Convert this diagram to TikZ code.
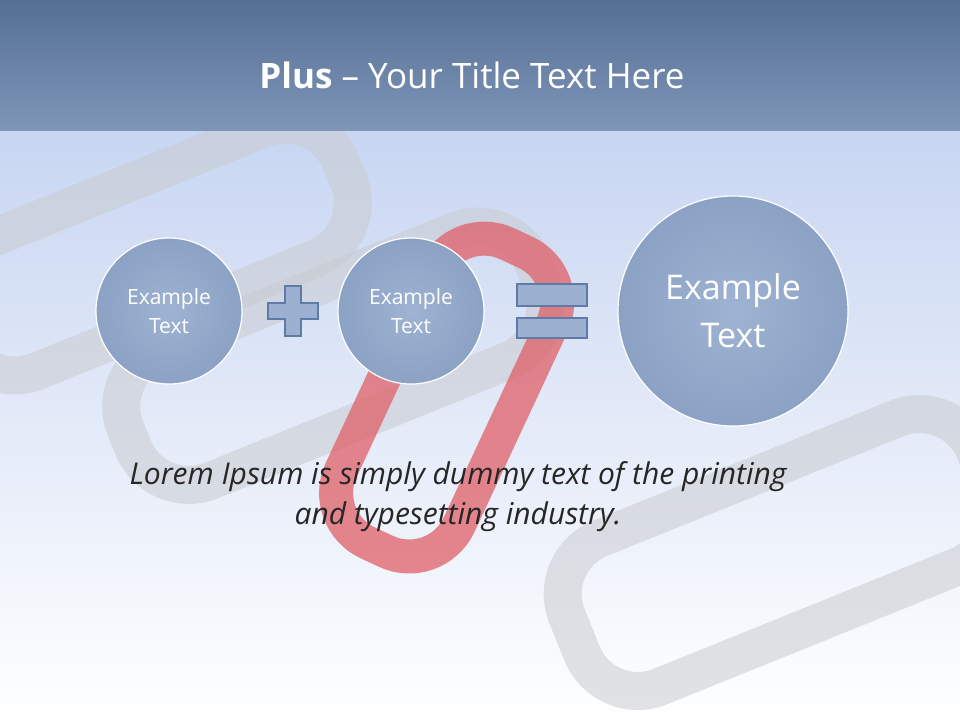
\documentclass[tikz,border=0pt]{standalone}
\usepackage{fontspec}
\setmainfont{Open Sans}
\begin{document}
\begin{tikzpicture}[x=1pt,y=-1pt,
  bub/.style={circle,draw=white,line width=1.2pt,shade,inner color=bubin,outer color=bubout,text=white,align=center,font=\fontsize{21}{29}\selectfont},
  sym/.style={draw=symd,fill=symf,line width=1.5pt},
  gl/.style={draw=linkg,line width=38pt,rounded corners=60pt,opacity=0.55},
  rl/.style={draw=linkr,line width=34pt,rounded corners=55pt,opacity=0.75}]
\definecolor{bubin}{HTML}{9FB3D2}\definecolor{bubout}{HTML}{8BA2C5}
\definecolor{symd}{HTML}{5E7BA5}\definecolor{symf}{HTML}{9CB1D2}
\definecolor{linkg}{HTML}{C9CBD0}\definecolor{linkr}{HTML}{E06068}
\definecolor{bgtop}{HTML}{C8D6F2}
\useasboundingbox (0,0) rectangle (960,720);
\shade[top color=bgtop,bottom color=white] (0,130) rectangle (960,720);
% chain links
\draw[gl,rotate around={22:(150,250)}] (-60,180) rectangle (360,320);
\draw[gl,rotate around={22:(760,560)}] (560,480) rectangle (1000,640);
\draw[gl,rotate around={22:(300,380)}] (120,300) rectangle (560,440);
\draw[rl,rotate around={-25:(440,400)}] (380,230) rectangle (510,560);
% title bar
\shade[top color=symd!90!black,bottom color=symd!80!white] (0,0) rectangle (960,130);
\node[text=white,font=\fontsize{35}{40}\selectfont] (title) at (472,75) {\textbf{Plus} -- Your Title Text Here};
\node[bub,minimum size=146pt] (c1) at (169,311) {Example\\Text};
\node[bub,minimum size=146pt] (c2) at (411,311) {Example\\Text};
\node[bub,minimum size=230pt,font=\fontsize{34}{48}\selectfont] (c3) at (733,311) {Example\\Text};
\draw[sym] (285,286) -- (301,286) -- (301,303) -- (318,303) -- (318,319) -- (301,319) -- (301,336) -- (285,336) -- (285,319) -- (268,319) -- (268,303) -- (285,303) -- cycle;
\draw[sym] (517,284) rectangle (587,306);
\draw[sym] (517,318) rectangle (587,338);
\node[align=center,font=\itshape\fontsize{30}{40}\selectfont,text=black!85] (txt) at (458,497) {Lorem Ipsum is simply dummy text of the printing\\and typesetting industry.};
\end{tikzpicture}
\end{document}
